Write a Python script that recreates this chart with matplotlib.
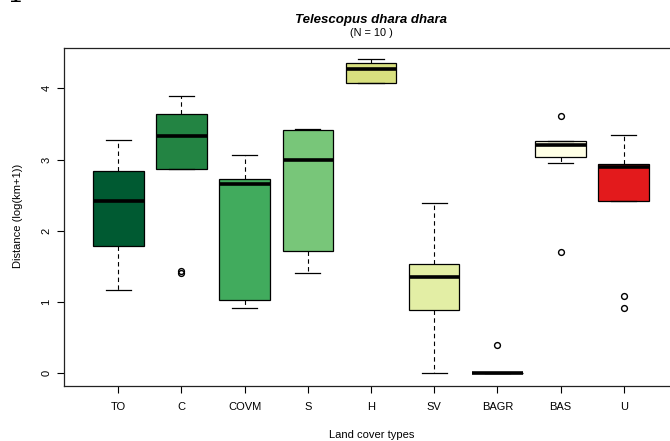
import matplotlib
matplotlib.use("Agg")
import matplotlib.pyplot as plt

plt.rcParams['font.family'] = ['Liberation Sans', 'DejaVu Sans']

categories = ["TO", "C", "COVM", "S", "H", "SV", "BAGR", "BAS", "U"]
whisker_low = [1.17, 2.86, 0.92, 1.40, 4.08, 0.00, 0.00, 2.95, 2.42]
q1 = [1.78, 2.86, 1.03, 1.72, 4.08, 0.88, 0.00, 3.04, 2.42]
medians = [2.42, 3.33, 2.65, 3.00, 4.27, 1.35, 0.00, 3.21, 2.90]
q3 = [2.84, 3.64, 2.72, 3.41, 4.35, 1.53, 0.00, 3.26, 2.93]
whisker_high = [3.27, 3.89, 3.06, 3.43, 4.41, 2.39, 0.00, 3.26, 3.34]
outliers = [[], [1.40, 1.43], [], [], [], [], [0.40], [3.61, 1.70], [1.09, 0.91]]
colors = ["#005a32", "#238443", "#41ab5d", "#78c679", "#d8e07f",
          "#e3eea5", "#e3eea5", "#ffffe5", "#e31a1c"]
yticks = [0, 1, 2, 3, 4]

W, H = 670, 441
fig = plt.figure(figsize=(W / 100, H / 100), dpi=100)
left, right, bottom, top = 64, 678, 385.7, 47.7
ax = fig.add_axes([left / W, 1 - bottom / H, (right - left) / W, (bottom - top) / H])

stats = []
for i, c in enumerate(categories):
    stats.append(dict(label=c, med=medians[i], q1=q1[i], q3=q3[i],
                      whislo=whisker_low[i], whishi=whisker_high[i],
                      fliers=outliers[i]))

positions = list(range(1, len(categories) + 1))
bp = ax.bxp(stats, positions=positions, widths=0.8, capwidths=0.4,
            patch_artist=True, showfliers=True,
            boxprops=dict(linewidth=0.9, edgecolor='black'),
            medianprops=dict(color='black', linewidth=2.6, solid_capstyle='butt'),
            whiskerprops=dict(color='black', linewidth=0.8, linestyle=(0, (4, 3))),
            capprops=dict(color='black', linewidth=0.9),
            flierprops=dict(marker='o', markerfacecolor='none', markeredgecolor='black',
                            markersize=4.2, markeredgewidth=1.0))
for patch, col in zip(bp['boxes'], colors):
    patch.set_facecolor(col)

ax.set_xlim(0.14, 9.86)
ax.set_ylim(-0.176, 4.57)
ax.set_yticks(yticks)
ax.set_yticklabels([str(v) for v in yticks], rotation=90, va='center')
ax.set_xticks(positions)
ax.set_xticklabels(categories)
ax.tick_params(axis='both', length=5, width=0.8, labelsize=8, color='black')
ax.tick_params(axis='x', pad=7)
ax.tick_params(axis='y', pad=4)
for sp in ax.spines.values():
    sp.set_linewidth(0.9)
    sp.set_color('#222222')

fig.text(18 / W, 1 - 216 / H, "Distance (log(km+1))", rotation=90,
         ha='center', va='center', fontsize=8)
fig.text(372 / W, 1 - 435 / H, "Land cover types", ha='center', va='center', fontsize=8)
fig.text(371 / W, 1 - 22.7 / H, "Telescopus dhara dhara", ha='center', va='baseline',
         fontsize=9.5, fontweight='bold', fontstyle='italic')
fig.text(371 / W, 1 - 33 / H, "(N = 10 )", ha='center', va='center', fontsize=7.9)
fig.text(15 / W, 1 - 2.5 / H, "1", ha='center', va='baseline', fontsize=20,
         family='DejaVu Serif')

fig.savefig("out.png", dpi=100)
